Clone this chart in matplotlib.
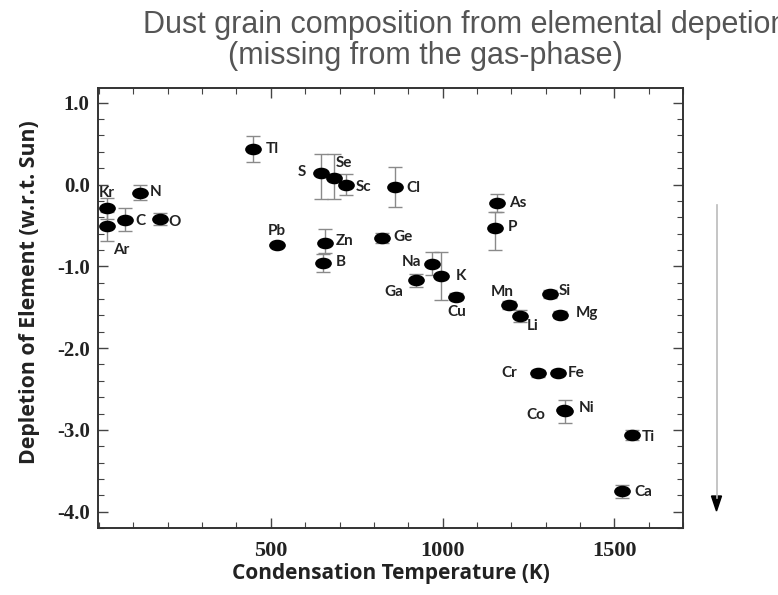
import matplotlib
matplotlib.use('Agg')
import matplotlib.pyplot as plt
from matplotlib.path import Path
from matplotlib.transforms import Affine2D
from matplotlib.lines import Line2D
from matplotlib.patches import Polygon
from matplotlib.ticker import MultipleLocator, FormatStrFormatter

# element, condensation temperature (K), depletion, error down / up
elements = ['Kr', 'Ar', 'C', 'N', 'O', 'Tl', 'Pb', 'S', 'Se', 'Sc', 'Cl', 'Zn', 'B', 'Ge', 'Na',
            'K', 'Ga', 'Cu', 'As', 'P', 'Mn', 'Li', 'Si', 'Mg', 'Cr', 'Fe', 'Co', 'Ni', 'Ti', 'Ca']
temps = [23, 23, 76, 119, 177, 449, 517, 646, 684, 719, 860, 658, 651, 825, 969,
         995, 922, 1040, 1158, 1153, 1192, 1226, 1312, 1343, 1278, 1336, 1352, 1356, 1552, 1521]
depletion = [-0.29, -0.51, -0.43, -0.10, -0.42, 0.43, -0.74, 0.14, 0.08, 0.00, -0.03, -0.71, -0.96, -0.65, -0.97,
             -1.12, -1.17, -1.37, -0.23, -0.53, -1.47, -1.61, -1.34, -1.59, -2.31, -2.30, -2.76, -2.77, -3.06, -3.75]
err_lo = [0.13, 0.18, 0.14, 0.09, 0.07, 0.16, 0.0, 0.32, 0.26, 0.13, 0.24, 0.13, 0.11, 0.06, 0.14,
          0.29, 0.08, 0.04, 0.11, 0.27, 0.05, 0.07, 0.05, 0.04, 0.04, 0.03, 0.0, 0.14, 0.06, 0.08]
err_hi = [0.13, 0.18, 0.14, 0.09, 0.07, 0.16, 0.0, 0.23, 0.29, 0.13, 0.24, 0.17, 0.11, 0.06, 0.14,
          0.29, 0.08, 0.04, 0.11, 0.20, 0.05, 0.07, 0.05, 0.04, 0.04, 0.03, 0.0, 0.14, 0.06, 0.08]

# label placement (offset in pixels, horizontal alignment)
label_pos = {
    'Kr': (0, 15, 'center'), 'Ar': (14, -24, 'center'), 'C': (10, -1, 'left'), 'N': (10, 1, 'left'),
    'O': (9, -3, 'left'), 'Tl': (12, 0, 'left'), 'Pb': (0, 14, 'center'), 'S': (-15, 1, 'right'),
    'Se': (2, 15, 'left'), 'Sc': (10, -2, 'left'), 'Cl': (12, -1, 'left'), 'Zn': (11, 2, 'left'),
    'B': (13, 1, 'left'), 'Ge': (11, 1, 'left'), 'Na': (-11, 2, 'right'), 'K': (15, 0, 'left'),
    'Ga': (-13, -12, 'right'), 'Cu': (0, -15, 'center'), 'As': (12, 0, 'left'), 'P': (13, 1, 'left'),
    'Mn': (-6, 13, 'center'), 'Li': (7, -10, 'left'), 'Si': (9, 3, 'left'), 'Mg': (15, 2, 'left'),
    'Cr': (-21, 0, 'right'), 'Fe': (10, 0, 'left'), 'Co': (-18, -5, 'right'), 'Ni': (14, 3, 'left'),
    'Ti': (10, -2, 'left'), 'Ca': (13, -1, 'left'),
}

fig = plt.figure(figsize=(7.78, 5.95), dpi=100)
ax = fig.add_axes([0.126, 0.1126, 0.752, 0.7394])

ellipse = Path.unit_circle().transformed(Affine2D().scale(1.5, 1.0))

ax.errorbar(temps, depletion, yerr=[err_lo, err_hi], fmt='none', ecolor='#8a8a8a',
            elinewidth=1.0, capsize=5, capthick=1.0, zorder=2)
ax.plot(temps, depletion, linestyle='none', marker=ellipse, markersize=11,
        color='black', zorder=3)

for el, t, d in zip(elements, temps, depletion):
    dx, dy, ha = label_pos[el]
    ax.annotate(el, (t, d), xytext=(dx, dy), textcoords='offset pixels', ha=ha, va='center',
                fontsize=11, fontweight='bold', family='Lato', color='#222222')

ax.set_xlim(-3, 1700)
ax.set_ylim(-4.2, 1.18)
ax.xaxis.set_major_locator(MultipleLocator(500))
ax.xaxis.set_minor_locator(MultipleLocator(100))
ax.yaxis.set_major_locator(MultipleLocator(1.0))
ax.yaxis.set_minor_locator(MultipleLocator(0.2))
ax.yaxis.set_major_formatter(FormatStrFormatter('%.1f'))
ax.tick_params(which='both', direction='in', top=True, right=True, color='#444444')
ax.tick_params(which='major', length=7, width=1.0)
ax.tick_params(which='minor', length=4, width=0.8)
ax.tick_params(axis='y', which='major', labelsize=15, pad=6)
ax.tick_params(axis='x', which='major', labelsize=16, pad=9)
ax.set_xticks([500, 1000, 1500])
for lab in ax.get_xticklabels() + ax.get_yticklabels():
    lab.set_family('Liberation Serif')
    lab.set_fontweight('bold')
    lab.set_color('#222222')
for sp in ax.spines.values():
    sp.set_color('#333333')
    sp.set_linewidth(1.4)

ax.set_xlabel('Condensation Temperature (K)', fontsize=15, fontweight='bold', family='Open Sans',
              color='#222222', labelpad=2)
ax.set_ylabel('Depletion of Element (w.r.t. Sun)', fontsize=15.3, fontweight='bold', family='Open Sans',
              color='#222222')
ax.yaxis.set_label_coords(-0.10, 0.536)

fig.text(143 / 778, 1 - 33 / 595, 'Dust grain composition from elemental depetion',
         ha='left', va='baseline', fontsize=22, color='#555555', family='Liberation Sans')
fig.text(425 / 778, 1 - 64 / 595, '(missing from the gas-phase)',
         ha='center', va='baseline', fontsize=22, color='#555555', family='Liberation Sans')

# downward arrow on the right
fig.add_artist(Line2D([0.921, 0.921], [1 - 205 / 595, 1 - 498 / 595], color='#bbbbbb',
                      lw=1.2, transform=fig.transFigure))
fig.add_artist(Polygon([[711.5 / 778, 1 - 496 / 595], [721.5 / 778, 1 - 496 / 595],
                        [716.5 / 778, 1 - 511 / 595]], closed=True, color='black',
                       transform=fig.transFigure))

fig.savefig('out.png', dpi=100)
